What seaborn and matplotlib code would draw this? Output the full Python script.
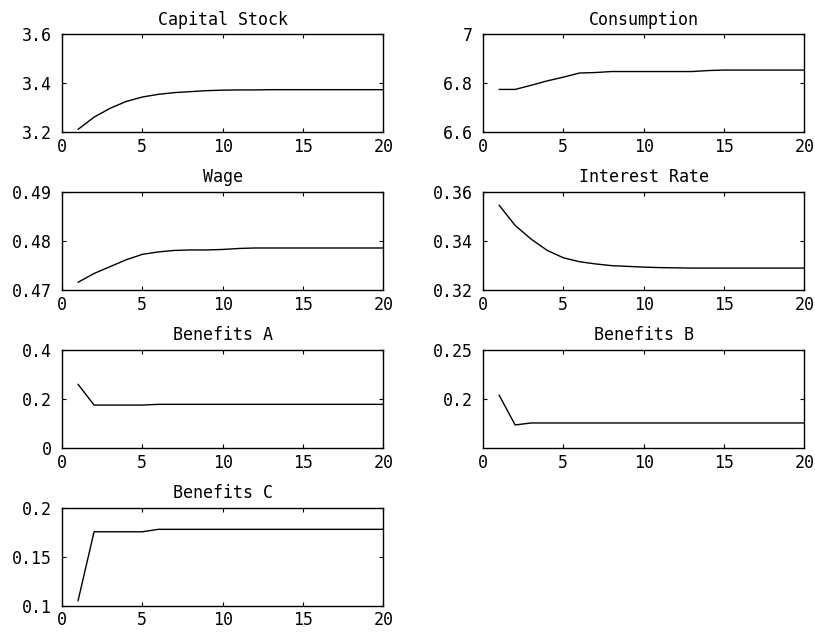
import numpy as np
import pandas as pd
import matplotlib
matplotlib.use("Agg")
import matplotlib.pyplot as plt
import seaborn as sns

# periods 1..20
periods = list(range(1, 21))

capital_stock = [3.212, 3.262, 3.298, 3.326, 3.344, 3.355, 3.362, 3.366, 3.370, 3.372,
                 3.373, 3.373, 3.374, 3.374, 3.374, 3.374, 3.374, 3.374, 3.374, 3.374]
consumption = [6.775, 6.775, 6.792, 6.810, 6.825, 6.842, 6.844, 6.848, 6.848, 6.848,
               6.848, 6.848, 6.848, 6.852, 6.854, 6.854, 6.854, 6.854, 6.854, 6.854]
wage = [0.4716, 0.4734, 0.4748, 0.4762, 0.4773, 0.4778, 0.4781, 0.4782, 0.4782, 0.4783,
        0.4785, 0.4786, 0.4786, 0.4786, 0.4786, 0.4786, 0.4786, 0.4786, 0.4786, 0.4786]
interest_rate = [0.3547, 0.3464, 0.3408, 0.3362, 0.3332, 0.3316, 0.3307, 0.3300, 0.3297, 0.3294,
                 0.3292, 0.3291, 0.3290, 0.3290, 0.3290, 0.3290, 0.3290, 0.3290, 0.3290, 0.3290]
benefits_a = [0.260, 0.175, 0.175, 0.175, 0.175, 0.178, 0.178, 0.178, 0.178, 0.178,
              0.178, 0.178, 0.178, 0.178, 0.178, 0.178, 0.178, 0.178, 0.178, 0.178]
benefits_b = [0.204, 0.1735, 0.1755, 0.1755, 0.1755, 0.1755, 0.1755, 0.1755, 0.1755, 0.1755,
              0.1755, 0.1755, 0.1755, 0.1755, 0.1755, 0.1755, 0.1755, 0.1755, 0.1755, 0.1755]
benefits_c = [0.105, 0.1755, 0.1755, 0.1755, 0.1755, 0.178, 0.178, 0.178, 0.178, 0.178,
              0.178, 0.178, 0.178, 0.178, 0.178, 0.178, 0.178, 0.178, 0.178, 0.178]

titles = ["Capital Stock", "Consumption", "Wage", "Interest Rate",
          "Benefits A", "Benefits B", "Benefits C"]
series = [capital_stock, consumption, wage, interest_rate, benefits_a, benefits_b, benefits_c]
ylims = [(3.2, 3.6), (6.6, 7.0), (0.47, 0.49), (0.32, 0.36), (0, 0.4), (0.15, 0.25), (0.1, 0.2)]
yticks = [[3.2, 3.4, 3.6], [6.6, 6.8, 7.0], [0.47, 0.48, 0.49], [0.32, 0.34, 0.36],
          [0, 0.2, 0.4], [0.2, 0.25], [0.1, 0.15, 0.2]]
ytick_labels = [["3.2", "3.4", "3.6"], ["6.6", "6.8", "7"], ["0.47", "0.48", "0.49"],
                ["0.32", "0.34", "0.36"], ["0", "0.2", "0.4"], ["0.2", "0.25"],
                ["0.1", "0.15", "0.2"]]
xticks = [0, 5, 10, 15, 20]

sns.set_style("ticks")
plt.rcParams['font.family'] = ['DejaVu Sans Mono']
plt.rcParams['xtick.direction'] = 'in'
plt.rcParams['ytick.direction'] = 'in'
plt.rcParams['xtick.top'] = True
plt.rcParams['ytick.right'] = True

fig, axes = plt.subplots(4, 2, figsize=(8.15, 6.35), dpi=100)
fig.subplots_adjust(left=0.076, right=0.987, bottom=0.046, top=0.946, wspace=0.31, hspace=0.61)

for i, ax in enumerate(axes.flat):
    if i >= len(series):
        ax.set_visible(False)
        continue
    df = pd.DataFrame({"t": periods, "v": series[i]})
    sns.lineplot(data=df, x="t", y="v", ax=ax, color="black", linewidth=1.0)
    ax.set_xlim(0, 20)
    ax.set_ylim(*ylims[i])
    ax.set_xticks(xticks)
    ax.set_xticklabels([str(t) for t in xticks])
    ax.set_yticks(yticks[i])
    ax.set_yticklabels(ytick_labels[i])
    ax.set_xlabel("")
    ax.set_ylabel("")
    ax.set_title(titles[i], fontsize=12, pad=7, color="black")
    ax.tick_params(labelsize=12, length=3, width=0.8, colors="black")
    ax.tick_params(axis="x", pad=4)
    ax.tick_params(axis="y", pad=7)
    for spine in ax.spines.values():
        spine.set_visible(True)
        spine.set_color("black")
        spine.set_linewidth(1.0)

plt.savefig("out.png", dpi=100)
